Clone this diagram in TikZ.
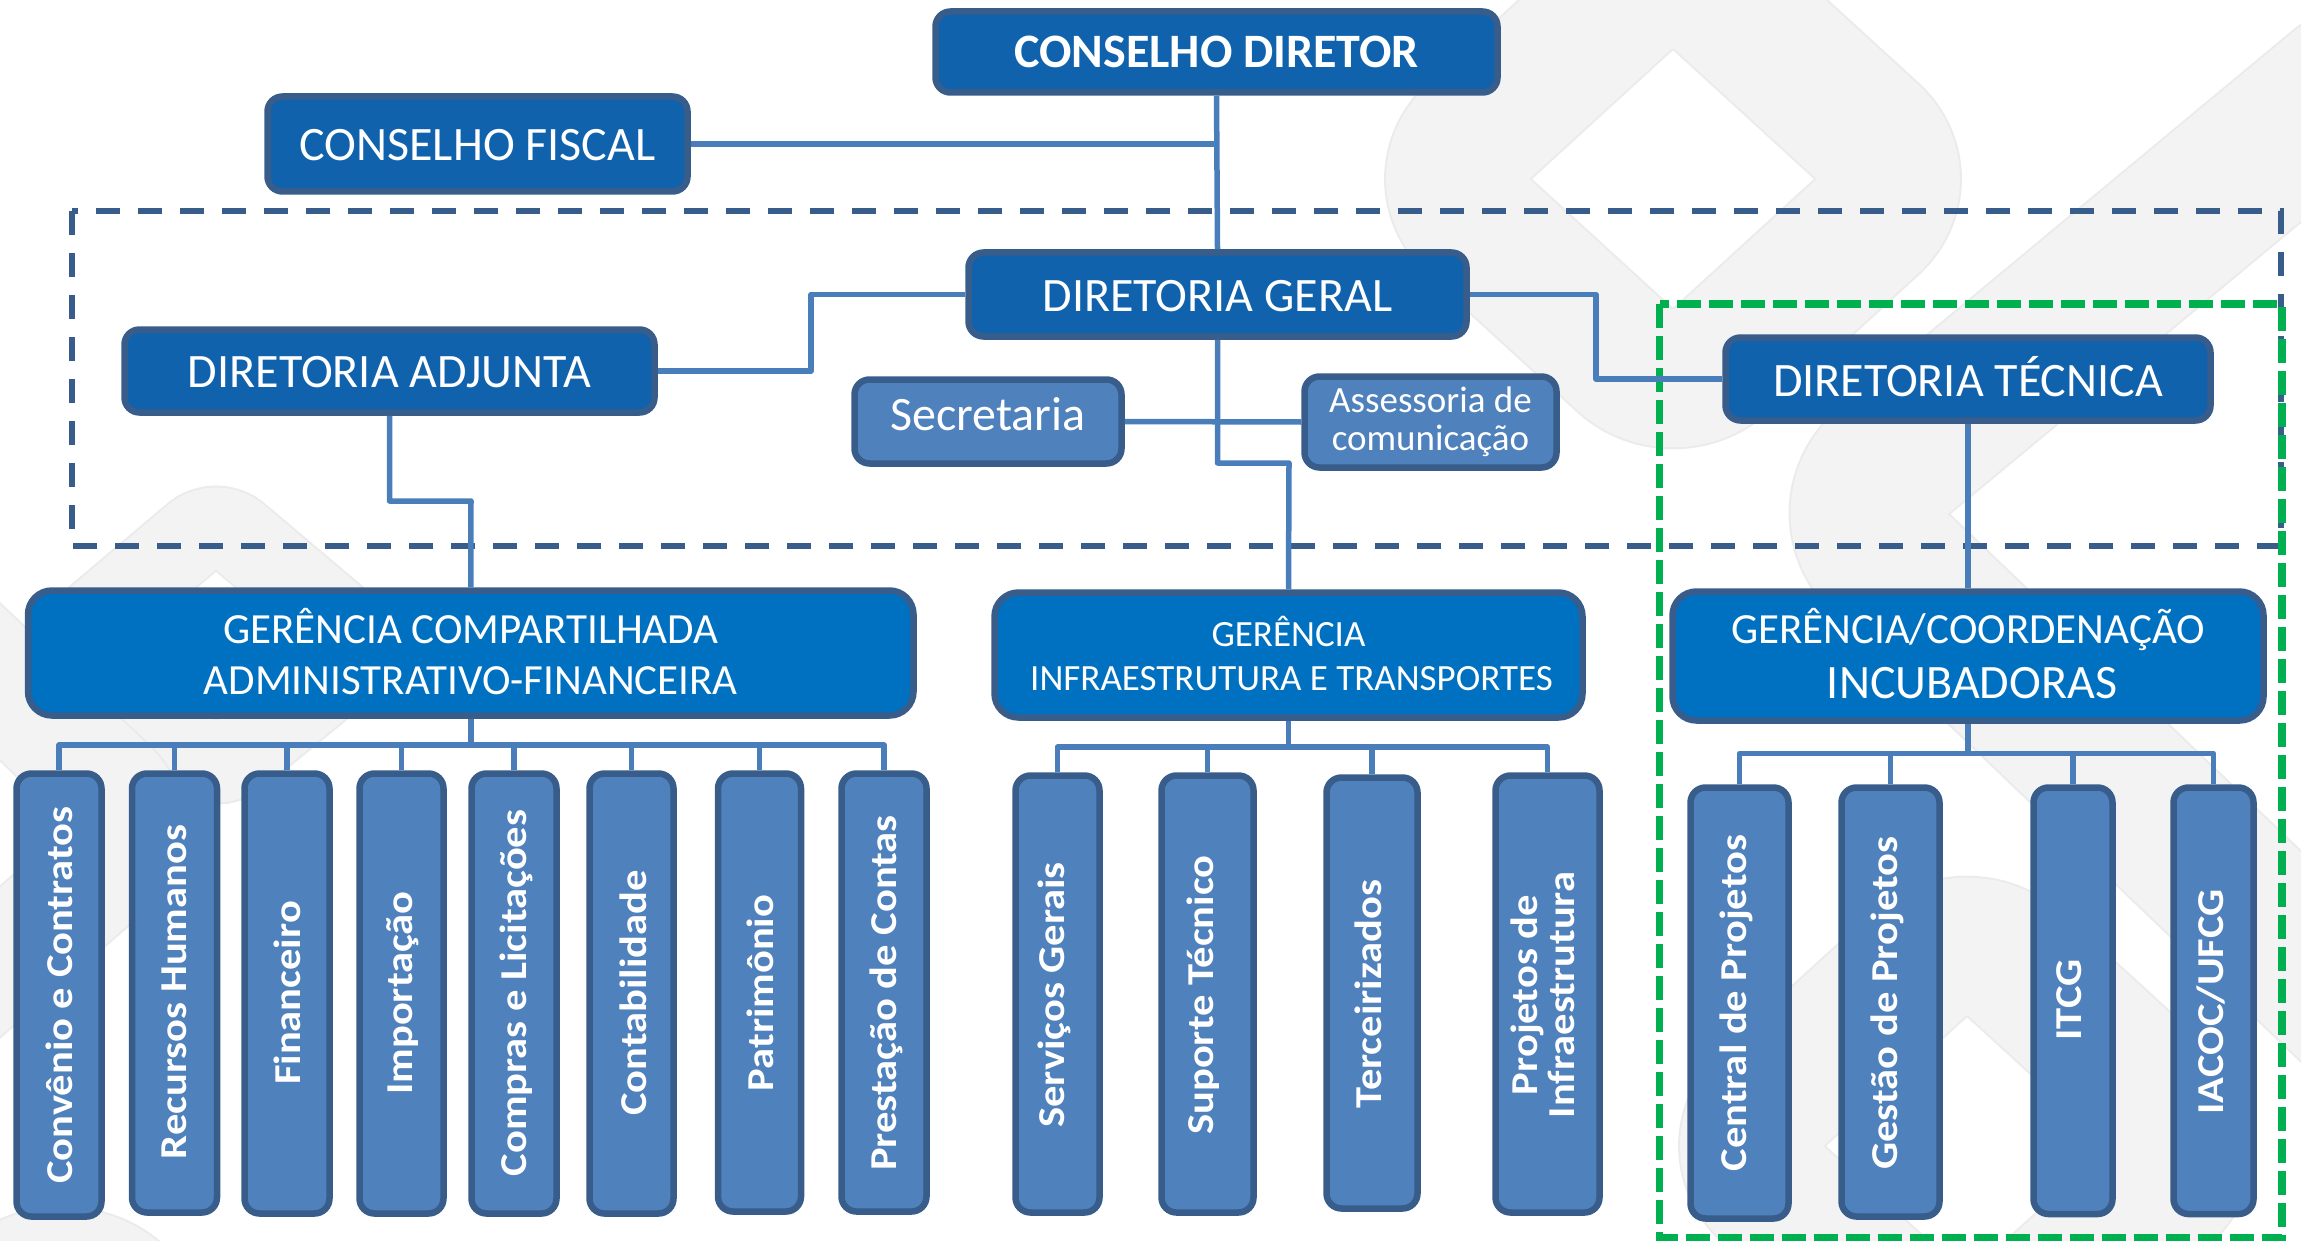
\documentclass[tikz,border=0pt]{standalone}
\usepackage{fontspec}
\setmainfont{Carlito}
\newfontfamily\widebold[FakeStretch=1.12]{Carlito Bold}
\newcommand{\lowertxt}{\rule{0pt}{34pt}}
\definecolor{topblue}{HTML}{1162AC}
\definecolor{midblue}{HTML}{0070C0}
\definecolor{leafblue}{HTML}{4F81BD}
\definecolor{edgeblue}{HTML}{385D8A}
\definecolor{linkblue}{HTML}{4A7EBB}
\definecolor{dashgreen}{HTML}{00B050}
\definecolor{wm}{HTML}{F3F3F3}
\definecolor{wmedge}{HTML}{EBEBEB}
\tikzset{
  bx/.style n args={4}{rectangle, rounded corners=15pt, draw=edgeblue, line width=6.5pt, text=white, align=center, inner sep=0pt,
    minimum width=#3-#1-5pt, minimum height=#4-#2-5pt, anchor=center, at={({(#1+#3)/2},{(#2+#4)/2})}},
  topbox/.style={fill=topblue},
  midbox/.style={fill=midblue, rounded corners=24pt},
  leafbox/.style={fill=leafblue},
  link/.style={draw=linkblue, line width=5.5pt, line join=round},
  vlabel/.style={rotate=90, text=white, align=center, font=\widebold\fontsize{38}{37}\selectfont},
  dashblue/.style={draw=edgeblue, line width=6pt, dash pattern=on 24pt off 18pt},
  dashgrn/.style={draw=dashgreen, line width=7.5pt, dash pattern=on 24pt off 8pt},
  wmring/.style={preaction={draw=wmedge, line width=#1+4pt}, draw=wm, line width=#1, line join=round},
}
\begin{document}
\begin{tikzpicture}[x=1pt,y=-1pt]
\useasboundingbox (0,0) rectangle (2301,1241);
\clip (0,0) rectangle (2301,1241);
% watermark
\draw[wmring=138pt, rounded corners=65pt] (1673,-46) -- (1919,179) -- (1673,404) -- (1427,179) -- cycle;
\draw[wmring=150pt, rounded corners=70pt] (2700,300) -- (2395,45) -- (1835,510) -- (2454,1103);
\draw[wmring=138pt, rounded corners=65pt] (1967,921) -- (2213,1146) -- (1967,1371) -- (1721,1146) -- cycle;
\draw[wmring=80pt, rounded corners=28pt] (216,517) -- (370,647) -- (216,773) -- (62,647) -- cycle;
\draw[wmring=112pt, rounded corners=60pt] (-200,492) -- (154,828) -- (-200,1136);
\draw[wmring=112pt, rounded corners=60pt] (-80,1330) -- (70,1245) -- (300,1420);
% dashed frames
\draw[dashblue] (72,211) rectangle (2281,546);
\draw[dashgrn] (1659.5,304) rectangle (2282,1238);
% nodes
\node[bx={933}{9}{1500}{95},topbox,font=\fontsize{48}{48}\selectfont\bfseries] (cd) {CONSELHO DIRETOR};
\node[bx={265}{94}{690}{194},topbox,font=\fontsize{48}{48}\selectfont] (cf) {\lowertxt CONSELHO FISCAL};
\node[bx={966}{250}{1469}{339},topbox,font=\fontsize{48}{48}\selectfont] (dg) {\lowertxt DIRETORIA GERAL};
\node[bx={122}{327}{657}{415},topbox,font=\fontsize{48}{48}\selectfont] (da) {\lowertxt DIRETORIA ADJUNTA};
\node[bx={1723}{335}{2213}{423},topbox,font=\fontsize{48}{48}\selectfont] (dt) {\raisebox{6pt}{DIRETORIA TÉCNICA}};
\node[bx={852}{377}{1124}{466},leafbox,font=\fontsize{48}{48}\selectfont] (sec) {\raisebox{16pt}{Secretaria}};
\node[bx={1302}{374}{1559}{470},leafbox,font=\fontsize{37}{38}\selectfont] (ass) {Assessoria de\\comunicação};
\node[bx={25.5}{588}{916}{718},midbox,font=\fontsize{43}{51}\selectfont] (gc) {GERÊNCIA COMPARTILHADA\\ADMINISTRATIVO-FINANCEIRA\rule[-3pt]{0pt}{1pt}};
\node[bx={992}{590}{1585}{720},midbox,font=\fontsize{37}{44}\selectfont] (gi) {GERÊNCIA\\\hspace*{6pt}INFRAESTRUTURA E TRANSPORTES\rule[-3pt]{0pt}{1pt}};
\node[bx={1670}{589}{2266}{723},midbox,font=\fontsize{43}{55}\selectfont] (gci) {GERÊNCIA/COORDENAÇÃO\\\hspace*{8pt}\fontsize{48}{55}\selectfont INCUBADORAS\rule[-6pt]{0pt}{1pt}};
% leaves
\node[bx={14}{771}{104}{1219},leafbox] (a1) {};
\node[bx={129.5}{771}{219.5}{1215},leafbox] (a2) {};
\node[bx={242}{771}{332}{1216},leafbox] (a3) {};
\node[bx={357}{771}{446}{1216},leafbox] (a4) {};
\node[bx={469}{771}{559}{1216},leafbox] (a5) {};
\node[bx={587}{771}{676}{1216},leafbox] (a6) {};
\node[bx={715.5}{771}{803.5}{1214},leafbox] (a7) {};
\node[bx={839}{771}{929}{1214},leafbox] (a8) {};
\node[bx={1013}{773}{1102}{1215},leafbox] (b1) {};
\node[bx={1159}{773}{1256}{1215},leafbox] (b2) {};
\node[bx={1324}{775}{1420}{1211},leafbox] (b3) {};
\node[bx={1493}{773}{1602}{1215},leafbox] (b4) {};
\node[bx={1688}{785}{1791}{1221},leafbox] (c1) {};
\node[bx={1839}{785}{1942}{1219},leafbox] (c2) {};
\node[bx={2031}{785}{2115}{1216.5},leafbox] (c3) {};
\node[bx={2171}{785}{2256}{1216.5},leafbox] (c4) {};
% leaf labels
\node[vlabel] (ta1) at (59,995) {Convênio e Contratos};
\node[vlabel] (ta2) at (174,992) {Recursos Humanos};
\node[vlabel] (ta3) at (287,993) {Financeiro};
\node[vlabel] (ta4) at (403,993) {Importação};
\node[vlabel] (ta5) at (516,993) {Compras e Licitações};
\node[vlabel] (ta6) at (633,993) {Contabilidade};
\node[vlabel] (ta7) at (760,993) {Patrimônio};
\node[vlabel] (ta8) at (886,993) {Prestação de Contas};
\node[vlabel] (tb1) at (1054,995) {Serviços Gerais};
\node[vlabel] (tb2) at (1203,995) {Suporte Técnico};
\node[vlabel] (tb3) at (1368,994) {Terceirizados};
\node[vlabel] (tb4) at (1543,995) {Projetos de\\Infraestrutura};
\node[vlabel] (tc1) at (1736,1003) {Central de Projetos};
\node[vlabel] (tc2) at (1887,1003) {Gestão de Projetos};
\node[vlabel] (tc3) at (2069,1000) {ITCG};
\node[vlabel] (tc4) at (2211,1002) {IACOC/UFCG};
% connectors
\draw[link] (cf.east) -- (cf.east -| cd.south);
\draw[link] (cd.south) -- (dg.north);
\draw[link] (dg.west) -| (811,371) -- (da.east);
\draw[link] (dg.east) -| (1596,379) -- (dt.west);
\draw[link] (dg.south) |- (1289,463) -- (gi.north);
\draw[link] (sec.east) -- (ass.west);
\draw[link] (da.south) |- (471,501) -- (gc.north);
\draw[link] (dt.south) -- (dt.south |- gci.north);
\draw[link] (gc.south) -- (gc.south |- 0,745);
\draw[link] (a1.north) |- (a8.north |- 0,745) -- (a8.north);
\foreach \n in {a2,a3,a4,a5,a6,a7} \draw[link] (\n.north) -- (\n.north |- 0,745);
\draw[link] (gi.south) -- (gi.south |- 0,747);
\draw[link] (b1.north) |- (b4.north |- 0,747) -- (b4.north);
\foreach \n in {b2,b3} \draw[link] (\n.north) -- (\n.north |- 0,747);
\draw[link] (dt.south |- gci.south) -- (dt.south |- 0,753.5);
\draw[link] (c1.north) |- (c4.north |- 0,753.5) -- (c4.north);
\foreach \n in {c2,c3} \draw[link] (\n.north) -- (\n.north |- 0,753.5);
\end{tikzpicture}
\end{document}
